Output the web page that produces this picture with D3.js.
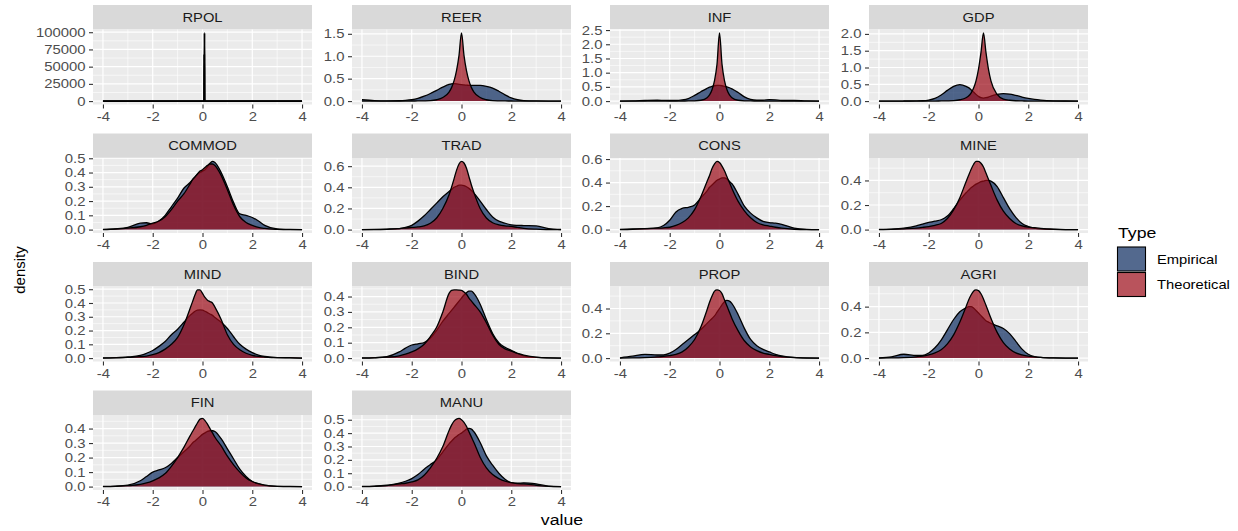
<!DOCTYPE html>
<html>
<head>
<meta charset="utf-8">
<script src="https://cdn.jsdelivr.net/npm/d3@7"></script>
<style>
  body { margin: 0; background: #ffffff; }
  svg text { font-family: "Liberation Sans", Arial, sans-serif; }
</style>
</head>
<body>
<div id="chart"></div>
<script>
/*
    Faceted density plot: empirical vs theoretical, one panel per variable
*/

// Shared x grid for the density curves (RPOL has its own, it is a spike)
var xGrid = [-4, -3.5, -3, -2.5, -2.25, -2, -1.75, -1.5, -1.25, -1, -0.75, -0.5, -0.4, -0.3, -0.2, -0.1,
    0, 0.1, 0.2, 0.3, 0.4, 0.5, 0.75, 1, 1.25, 1.5, 1.75, 2, 2.25, 2.5, 3, 3.5, 4];
var rpolX = [-4, 0.05, 0.06, 0.07, 0.08, 0.09, 4];
var xTicks = [-4, -2, 0, 2, 4];

var panels = ["RPOL", "REER", "INF", "GDP", "COMMOD", "TRAD", "CONS", "MINE",
    "MIND", "BIND", "PROP", "AGRI", "FIN", "MANU"];
var types = ["Empirical", "Theoretical"];

// Density values
var empRPOL = [0, 0, 0, 0, 99000, 0, 0];
var theoRPOL = [0, 0, 0, 68000, 0, 0, 0];

var empREER = [0.03, 0.01, 0.005, 0.008, 0.015, 0.03, 0.06, 0.11, 0.17, 0.24, 0.31, 0.37, 0.385, 0.39, 0.385, 0.375,
    0.365, 0.36, 0.355, 0.35, 0.35, 0.35, 0.35, 0.33, 0.29, 0.22, 0.14, 0.07, 0.03, 0.012, 0.003, 0.001, 0.001];
var theoREER = [0, 0, 0, 0, 0, 0.002, 0.003, 0.005, 0.01, 0.03, 0.08, 0.2, 0.3, 0.45, 0.68, 1.02,
    1.52, 1.02, 0.68, 0.45, 0.3, 0.2, 0.08, 0.03, 0.01, 0.005, 0.003, 0.002, 0, 0, 0, 0, 0];

var empINF = [0.002, 0.005, 0.02, 0.03, 0.025, 0.02, 0.02, 0.04, 0.09, 0.2, 0.33, 0.45, 0.49, 0.52, 0.54, 0.55,
    0.55, 0.54, 0.52, 0.5, 0.47, 0.43, 0.3, 0.15, 0.06, 0.03, 0.03, 0.05, 0.04, 0.02, 0.02, 0.005, 0.001];
var theoINF = [0, 0, 0, 0, 0, 0, 0, 0.003, 0.005, 0.01, 0.03, 0.12, 0.22, 0.4, 0.72, 1.3,
    2.4, 1.3, 0.72, 0.4, 0.22, 0.12, 0.03, 0.01, 0.005, 0.003, 0, 0, 0, 0, 0, 0, 0];

var empGDP = [0, 0, 0.002, 0.005, 0.01, 0.03, 0.08, 0.18, 0.32, 0.44, 0.49, 0.44, 0.4, 0.34, 0.27, 0.2,
    0.14, 0.1, 0.09, 0.1, 0.12, 0.15, 0.2, 0.22, 0.21, 0.17, 0.12, 0.08, 0.05, 0.03, 0.008, 0.002, 0];
var theoGDP = [0, 0, 0, 0, 0, 0, 0, 0.005, 0.008, 0.015, 0.04, 0.1, 0.15, 0.24, 0.38, 0.6,
    0.95, 1.45, 2.03, 1.45, 0.95, 0.6, 0.2, 0.06, 0.025, 0.01, 0.005, 0, 0, 0, 0, 0, 0];

var empCOMMOD = [0.001, 0.005, 0.015, 0.045, 0.048, 0.04, 0.06, 0.1, 0.16, 0.22, 0.29, 0.33, 0.35, 0.37, 0.39, 0.4,
    0.41, 0.42, 0.44, 0.465, 0.478, 0.47, 0.4, 0.3, 0.19, 0.11, 0.1, 0.085, 0.06, 0.03, 0.005, 0.001, 0];
var theoCOMMOD = [0, 0.004, 0.01, 0.02, 0.03, 0.045, 0.06, 0.09, 0.14, 0.2, 0.25, 0.32, 0.35, 0.37, 0.39, 0.41,
    0.42, 0.435, 0.45, 0.46, 0.46, 0.45, 0.38, 0.28, 0.17, 0.09, 0.05, 0.03, 0.015, 0.008, 0.002, 0, 0];

var empTRAD = [0, 0.002, 0.005, 0.01, 0.02, 0.04, 0.08, 0.13, 0.19, 0.25, 0.31, 0.36, 0.38, 0.4, 0.41, 0.42,
    0.42, 0.415, 0.405, 0.39, 0.37, 0.345, 0.27, 0.19, 0.12, 0.08, 0.06, 0.045, 0.04, 0.038, 0.035, 0.01, 0.001];
var theoTRAD = [0, 0, 0.002, 0.01, 0.015, 0.02, 0.025, 0.035, 0.06, 0.11, 0.2, 0.33, 0.4, 0.48, 0.56, 0.62,
    0.645, 0.63, 0.58, 0.5, 0.42, 0.35, 0.2, 0.11, 0.065, 0.045, 0.035, 0.03, 0.02, 0.012, 0.004, 0, 0];

var empCONS = [0.001, 0.005, 0.008, 0.015, 0.035, 0.08, 0.15, 0.18, 0.19, 0.21, 0.27, 0.33, 0.36, 0.38, 0.4, 0.42,
    0.43, 0.44, 0.44, 0.43, 0.41, 0.39, 0.3, 0.2, 0.14, 0.1, 0.07, 0.06, 0.055, 0.045, 0.012, 0.002, 0];
var theoCONS = [0, 0.002, 0.008, 0.012, 0.015, 0.02, 0.035, 0.06, 0.1, 0.17, 0.28, 0.41, 0.46, 0.52, 0.56, 0.58,
    0.57, 0.54, 0.5, 0.45, 0.4, 0.35, 0.24, 0.16, 0.1, 0.06, 0.04, 0.03, 0.02, 0.012, 0.003, 0, 0];

var empMINE = [0.001, 0.004, 0.012, 0.03, 0.045, 0.058, 0.068, 0.08, 0.11, 0.17, 0.24, 0.3, 0.32, 0.34, 0.355, 0.37,
    0.38, 0.39, 0.395, 0.4, 0.4, 0.395, 0.35, 0.26, 0.17, 0.1, 0.05, 0.025, 0.012, 0.006, 0.002, 0, 0];
var theoMINE = [0, 0.002, 0.006, 0.012, 0.018, 0.025, 0.035, 0.05, 0.09, 0.16, 0.26, 0.39, 0.44, 0.49, 0.53, 0.555,
    0.555, 0.54, 0.51, 0.46, 0.41, 0.36, 0.24, 0.15, 0.09, 0.05, 0.03, 0.02, 0.015, 0.01, 0.003, 0, 0];

var empMIND = [0.001, 0.003, 0.008, 0.02, 0.035, 0.055, 0.085, 0.12, 0.17, 0.21, 0.26, 0.31, 0.325, 0.34, 0.348, 0.35,
    0.348, 0.34, 0.33, 0.32, 0.31, 0.295, 0.26, 0.215, 0.155, 0.1, 0.065, 0.04, 0.022, 0.012, 0.004, 0.002, 0];
var theoMIND = [0, 0.002, 0.005, 0.01, 0.015, 0.025, 0.04, 0.065, 0.1, 0.15, 0.24, 0.36, 0.41, 0.46, 0.495, 0.495,
    0.47, 0.44, 0.42, 0.41, 0.4, 0.37, 0.28, 0.17, 0.1, 0.06, 0.035, 0.02, 0.012, 0.008, 0.004, 0.004, 0];

var empBIND = [0.001, 0.003, 0.01, 0.04, 0.065, 0.085, 0.093, 0.1, 0.13, 0.18, 0.24, 0.29, 0.31, 0.33, 0.35, 0.37,
    0.39, 0.41, 0.425, 0.435, 0.435, 0.42, 0.35, 0.25, 0.16, 0.1, 0.07, 0.05, 0.03, 0.015, 0.004, 0.001, 0];
var theoBIND = [0, 0.002, 0.006, 0.015, 0.025, 0.04, 0.06, 0.09, 0.14, 0.2, 0.3, 0.42, 0.44, 0.443, 0.443, 0.442,
    0.44, 0.43, 0.415, 0.39, 0.37, 0.35, 0.3, 0.23, 0.15, 0.09, 0.06, 0.045, 0.03, 0.02, 0.006, 0.001, 0];

var empPROP = [0.002, 0.015, 0.03, 0.025, 0.025, 0.04, 0.07, 0.11, 0.15, 0.19, 0.23, 0.28, 0.3, 0.32, 0.34, 0.37,
    0.4, 0.43, 0.455, 0.465, 0.46, 0.44, 0.35, 0.24, 0.15, 0.1, 0.07, 0.05, 0.03, 0.018, 0.005, 0.001, 0];
var theoPROP = [0, 0.001, 0.004, 0.01, 0.014, 0.02, 0.03, 0.05, 0.09, 0.15, 0.25, 0.39, 0.45, 0.5, 0.54, 0.55,
    0.545, 0.52, 0.47, 0.42, 0.37, 0.32, 0.22, 0.14, 0.09, 0.06, 0.04, 0.03, 0.02, 0.012, 0.003, 0, 0];

var empAGRI = [0.002, 0.01, 0.03, 0.02, 0.02, 0.04, 0.08, 0.14, 0.22, 0.3, 0.36, 0.39, 0.4, 0.4, 0.39, 0.37,
    0.35, 0.33, 0.31, 0.29, 0.28, 0.27, 0.25, 0.23, 0.19, 0.13, 0.07, 0.03, 0.012, 0.005, 0.001, 0, 0];
var theoAGRI = [0, 0.001, 0.004, 0.01, 0.015, 0.025, 0.04, 0.065, 0.11, 0.18, 0.28, 0.4, 0.45, 0.49, 0.52, 0.53,
    0.525, 0.5, 0.46, 0.41, 0.36, 0.31, 0.2, 0.12, 0.07, 0.04, 0.025, 0.015, 0.01, 0.005, 0.001, 0, 0];

var empFIN = [0.001, 0.003, 0.01, 0.04, 0.07, 0.1, 0.115, 0.13, 0.16, 0.2, 0.24, 0.28, 0.3, 0.315, 0.33, 0.345,
    0.36, 0.37, 0.38, 0.385, 0.385, 0.38, 0.33, 0.26, 0.19, 0.12, 0.07, 0.035, 0.018, 0.008, 0.002, 0.001, 0];
var theoFIN = [0, 0.002, 0.006, 0.015, 0.025, 0.04, 0.06, 0.09, 0.14, 0.2, 0.27, 0.35, 0.38, 0.41, 0.44, 0.465,
    0.47, 0.455, 0.43, 0.4, 0.37, 0.34, 0.28, 0.21, 0.15, 0.1, 0.06, 0.035, 0.02, 0.01, 0.002, 0, 0];

var empMANU = [0.001, 0.003, 0.01, 0.025, 0.04, 0.06, 0.09, 0.13, 0.165, 0.2, 0.26, 0.32, 0.34, 0.36, 0.375, 0.39,
    0.4, 0.415, 0.43, 0.435, 0.43, 0.41, 0.33, 0.23, 0.16, 0.1, 0.055, 0.03, 0.025, 0.028, 0.02, 0.003, 0];
var theoMANU = [0, 0.002, 0.007, 0.02, 0.025, 0.035, 0.05, 0.085, 0.14, 0.21, 0.3, 0.42, 0.46, 0.49, 0.505, 0.51,
    0.5, 0.48, 0.45, 0.41, 0.37, 0.33, 0.22, 0.14, 0.09, 0.06, 0.04, 0.03, 0.022, 0.02, 0.01, 0.002, 0];

// y tick labels for each (free scale) panel
var yTicksRPOL = [0, 25000, 50000, 75000, 100000];
var yTicksREER = [0, 0.5, 1, 1.5];
var yTicksINF = [0, 0.5, 1, 1.5, 2, 2.5];
var yTicksGDP = [0, 0.5, 1, 1.5, 2];
var yTicksCOMMOD = [0, 0.1, 0.2, 0.3, 0.4, 0.5];
var yTicksTRAD = [0, 0.2, 0.4, 0.6];
var yTicksCONS = [0, 0.2, 0.4, 0.6];
var yTicksMINE = [0, 0.2, 0.4];
var yTicksMIND = [0, 0.1, 0.2, 0.3, 0.4, 0.5];
var yTicksBIND = [0, 0.1, 0.2, 0.3, 0.4];
var yTicksPROP = [0, 0.2, 0.4];
var yTicksAGRI = [0, 0.2, 0.4];
var yTicksFIN = [0, 0.1, 0.2, 0.3, 0.4];
var yTicksMANU = [0, 0.1, 0.2, 0.3, 0.4, 0.5];

// Table the drawing loop reads from
var panelData = {
    RPOL: {x: rpolX, emp: empRPOL, theo: theoRPOL, ticks: yTicksRPOL},
    REER: {x: xGrid, emp: empREER, theo: theoREER, ticks: yTicksREER},
    INF: {x: xGrid, emp: empINF, theo: theoINF, ticks: yTicksINF},
    GDP: {x: xGrid, emp: empGDP, theo: theoGDP, ticks: yTicksGDP},
    COMMOD: {x: xGrid, emp: empCOMMOD, theo: theoCOMMOD, ticks: yTicksCOMMOD},
    TRAD: {x: xGrid, emp: empTRAD, theo: theoTRAD, ticks: yTicksTRAD},
    CONS: {x: xGrid, emp: empCONS, theo: theoCONS, ticks: yTicksCONS},
    MINE: {x: xGrid, emp: empMINE, theo: theoMINE, ticks: yTicksMINE},
    MIND: {x: xGrid, emp: empMIND, theo: theoMIND, ticks: yTicksMIND},
    BIND: {x: xGrid, emp: empBIND, theo: theoBIND, ticks: yTicksBIND},
    PROP: {x: xGrid, emp: empPROP, theo: theoPROP, ticks: yTicksPROP},
    AGRI: {x: xGrid, emp: empAGRI, theo: theoAGRI, ticks: yTicksAGRI},
    FIN: {x: xGrid, emp: empFIN, theo: theoFIN, ticks: yTicksFIN},
    MANU: {x: xGrid, emp: empMANU, theo: theoMANU, ticks: yTicksMANU}
};

// Dimensions and layout
var width = 1238;
var height = 531;
var colLeft = [93, 352, 610, 869];
var panelW = 219;
var panelH = 75;
var stripH = 24.5;
var stripTop = 5;
var rowStep = 128.5;
var sx = 1.18; // the reference text is a little wide, stretch it

var fillColor = {Empirical: "#0a2a5e", Theoretical: "#9b0a17"};
var fillAlpha = 0.7;

var svg = d3.select("#chart").append("svg")
    .attr("width", width)
    .attr("height", height)
    .style("background", "#ffffff");

// put a horizontally stretched text at x, y
function addText(parent, x, y, str) {
    return parent.append("text")
        .attr("transform", "translate(" + x + "," + y + ") scale(" + sx + ",1)")
        .text(str);
}

// ggplot style minor breaks: halfway between majors, one step past the ends
function minorBreaks(majors, domain) {
    var step = majors[1] - majors[0];
    var ext = [majors[0] - step].concat(majors, [majors[majors.length - 1] + step]);
    var out = [];
    for (var i = 0; i < ext.length - 1; i++) {
        var m = (ext[i] + ext[i + 1]) / 2;
        if (m >= domain[0] && m <= domain[1]) out.push(m);
    }
    return out;
}

panels.forEach(function(name, i) {
    var d = panelData[name];
    var col = i % 4;
    var row = Math.floor(i / 4);

    var g = svg.append("g")
        .attr("transform", "translate(" + colLeft[col] + "," + (stripTop + row * rowStep) + ")");

    // Strip with the panel name
    g.append("rect")
        .attr("width", panelW)
        .attr("height", stripH)
        .attr("fill", "#D9D9D9");
    addText(g, panelW / 2, stripH / 2 + 4.5, name)
        .attr("text-anchor", "middle")
        .attr("font-size", 12.5)
        .attr("fill", "#1A1A1A");

    var p = g.append("g").attr("transform", "translate(0," + stripH + ")");

    var x = d3.scaleLinear().domain([-4.4, 4.4]).range([0, panelW]);
    var maxY = d3.max(d.emp.concat(d.theo));
    var y = d3.scaleLinear().domain([-0.05 * maxY, 1.05 * maxY]).range([panelH, 0]);

    p.append("rect")
        .attr("width", panelW)
        .attr("height", panelH)
        .attr("fill", "#EBEBEB");

    // Grid lines
    var grid = p.append("g").attr("stroke", "#ffffff").attr("fill", "none");
    grid.selectAll(".xminor").data(minorBreaks(xTicks, x.domain())).enter().append("line")
        .attr("x1", function(v) { return x(v); }).attr("x2", function(v) { return x(v); })
        .attr("y1", 0).attr("y2", panelH).attr("stroke-width", 0.6);
    grid.selectAll(".yminor").data(minorBreaks(d.ticks, y.domain())).enter().append("line")
        .attr("y1", function(v) { return y(v); }).attr("y2", function(v) { return y(v); })
        .attr("x1", 0).attr("x2", panelW).attr("stroke-width", 0.6);
    grid.selectAll(".xmajor").data(xTicks).enter().append("line")
        .attr("x1", function(v) { return x(v); }).attr("x2", function(v) { return x(v); })
        .attr("y1", 0).attr("y2", panelH).attr("stroke-width", 1.2);
    grid.selectAll(".ymajor").data(d.ticks).enter().append("line")
        .attr("y1", function(v) { return y(v); }).attr("y2", function(v) { return y(v); })
        .attr("x1", 0).attr("x2", panelW).attr("stroke-width", 1.2);

    var area = d3.area()
        .x(function(pt) { return x(pt[0]); })
        .y0(y(0))
        .y1(function(pt) { return y(pt[1]); })
        .curve(d3.curveMonotoneX);
    var line = d3.line()
        .x(function(pt) { return x(pt[0]); })
        .y(function(pt) { return y(pt[1]); })
        .curve(d3.curveMonotoneX);

    // Empirical first, theoretical on top
    [["Empirical", d.emp], ["Theoretical", d.theo]].forEach(function(s) {
        var pts = d.x.map(function(xv, k) { return [xv, s[1][k]]; });
        p.append("path")
            .datum(pts)
            .attr("d", area)
            .attr("fill", fillColor[s[0]])
            .attr("fill-opacity", fillAlpha);
        p.append("path")
            .datum(pts)
            .attr("d", line)
            .attr("fill", "none")
            .attr("stroke", "#000000")
            .attr("stroke-width", name === "RPOL" ? 1.8 : 1.3)
            .attr("stroke-linejoin", "round");
    });

    // Axes (plain hyphen for negatives, like the reference)
    var fmt = name === "RPOL" ? function(v) { return String(v); } : d3.format(".1f");
    var ya = p.append("g")
        .call(d3.axisLeft(y).tickValues(d.ticks).tickSize(4).tickPadding(2).tickFormat(fmt));
    var xa = p.append("g")
        .attr("transform", "translate(0," + panelH + ")")
        .call(d3.axisBottom(x).tickValues(xTicks).tickSize(4).tickPadding(3.2)
            .tickFormat(function(v) { return String(v); }));

    [ya, xa].forEach(function(a) {
        a.attr("font-family", null).attr("font-size", 12.6);
        a.select(".domain").remove();
        a.selectAll(".tick line").attr("stroke", "#333333").attr("stroke-width", 1.1);
        a.selectAll(".tick text").attr("fill", "#4D4D4D")
            .attr("transform", "scale(" + sx + ",1)");
    });
    ya.selectAll(".tick text").attr("x", -7.5 / sx);
});

// Axis titles
addText(svg, 562, 525, "value")
    .attr("text-anchor", "middle")
    .attr("font-size", 15)
    .attr("fill", "#000000");
svg.append("text")
    .attr("transform", "translate(25,270) rotate(-90)")
    .attr("text-anchor", "middle")
    .attr("font-size", 15)
    .attr("fill", "#000000")
    .text("density");

// Legend
var legend = svg.append("g").attr("transform", "translate(1117,0)");
addText(legend, 1, 238, "Type")
    .attr("font-size", 15)
    .attr("fill", "#000000");
types.forEach(function(t, k) {
    var ky = 247 + k * 25.5;
    legend.append("rect")
        .attr("x", 0.5)
        .attr("y", ky)
        .attr("width", 28)
        .attr("height", 24)
        .attr("fill", "#ffffff");
    legend.append("rect")
        .attr("x", 0.5)
        .attr("y", ky)
        .attr("width", 28)
        .attr("height", 24)
        .attr("fill", fillColor[t])
        .attr("fill-opacity", fillAlpha)
        .attr("stroke", "#000000")
        .attr("stroke-width", 1.1);
    addText(legend, 40, ky + 16.5, t)
        .attr("font-size", 12.5)
        .attr("fill", "#000000");
});
</script>
</body>
</html>
